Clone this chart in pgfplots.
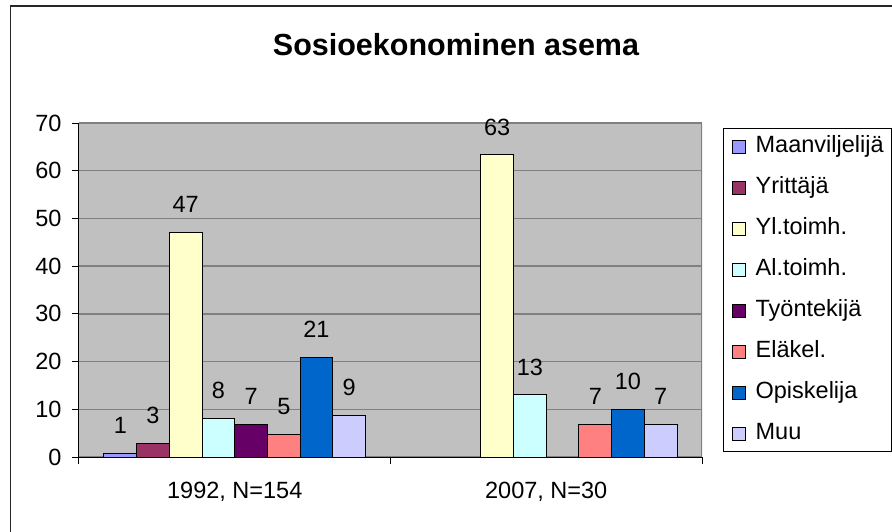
\documentclass[border=0pt]{standalone}
\usepackage{fontspec}
\setmainfont{Liberation Sans}
\usepackage{pgfplots}
\pgfplotsset{compat=1.18}
\definecolor{cA}{HTML}{9999FF}
\definecolor{cB}{HTML}{993366}
\definecolor{cC}{HTML}{FFFFCC}
\definecolor{cD}{HTML}{CCFFFF}
\definecolor{cE}{HTML}{660066}
\definecolor{cF}{HTML}{FF8080}
\definecolor{cG}{HTML}{0066CC}
\definecolor{cH}{HTML}{CCCCFF}
\definecolor{plotbg}{HTML}{C0C0C0}
\definecolor{gridc}{HTML}{808080}
\begin{document}
\begin{tikzpicture}
\useasboundingbox (-79pt,-74pt) rectangle (813pt,457pt);
\draw[line width=1.8pt, black!85] (-68.5pt,-120pt) -- (-68.5pt,451.3pt) -- (900pt,451.3pt);
\begin{axis}[
  at={(0pt,0pt)}, anchor=south west,
  scale only axis, width=623pt, height=334pt,
  xmin=-0.5, xmax=1.5, ymin=0, ymax=70,
  ybar=0pt, bar width=32.7pt,
  axis background/.style={fill=plotbg},
  axis x line*=bottom, axis y line*=left,
  axis line style={-, black, line width=1pt},
  ytick={0,10,...,70},
  ymajorgrids, grid style={gridc, line width=1.3pt},
  tick align=outside, major tick length=7pt,
  tick style={black, line width=1pt},
  xtick={-0.5,0.5,1.5}, xticklabels={},
  extra x ticks={0,1},
  extra x tick labels={{1992, N=154},{2007, N=30}},
  extra x tick style={major tick length=0pt, grid=none},
  /pgf/number format/assume math mode=true,
  tick label style={font=\fontsize{23.5}{28}\selectfont, black},
  xticklabel style={yshift=-22pt},
  yticklabel style={xshift=-7pt},
  nodes near coords={\pgfmathprintnumber[fixed,precision=0,assume math mode=true]{\pgfplotspointmeta}},
  every node near coord/.append style={anchor=center, yshift=28pt, font=\fontsize{23.5}{28}\selectfont, black},
  every axis plot/.append style={draw=black, line width=1pt},
  legend cell align=left,
  legend image code/.code={\draw[#1, line width=0.9pt] (0pt,-6.5pt) rectangle (13pt,6.5pt); \path (23pt,0pt);},
  legend style={at={(1.034,0.985)}, anchor=north west, draw=black, line width=1pt, fill=white,
    font=\fontsize{23.5}{28}\selectfont, inner xsep=8pt, inner ysep=7pt, row sep=19pt,
    nodes={inner sep=0pt, text height=17pt, text depth=5pt}},
]
\addplot[fill=cA] coordinates {(0,0.8)};
\addplot[fill=cB] coordinates {(0,2.8)};
\addplot[fill=cC] coordinates {(0,47.1) (1,63.3)};
\addplot[fill=cD] coordinates {(0,8.0) (1,13.0)};
\addplot[fill=cE] coordinates {(0,6.8)};
\addplot[fill=cF] coordinates {(0,4.8) (1,6.8)};
\addplot[fill=cG] coordinates {(0,20.9) (1,10.0)};
\addplot[fill=cH] coordinates {(0,8.8) (1,6.8)};
\legend{Maanviljelijä,Yrittäjä,Yl.toimh.,Al.toimh.,Työntekijä,Eläkel.,Opiskelija,Muu}
\draw[gridc, line width=1.3pt] (rel axis cs:1,0) -- (rel axis cs:1,1);
\end{axis}
\node[font=\bfseries\fontsize{30.5}{36}\selectfont, anchor=base] at (377pt,401pt) {Sosioekonominen asema};
\end{tikzpicture}
\end{document}
